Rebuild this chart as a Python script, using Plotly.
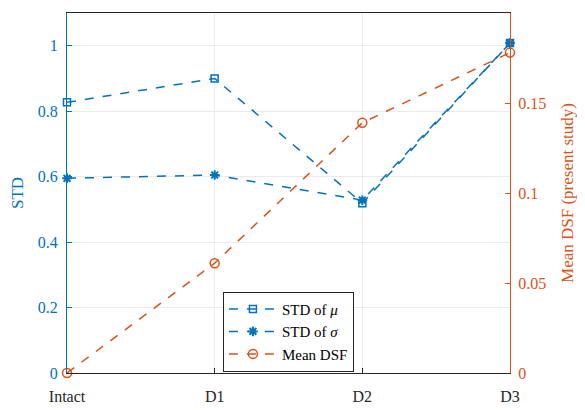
import plotly.graph_objects as go

categories = ["Intact", "D1", "D2", "D3"]
std_mu = [0.827, 0.90, 0.519, 1.008]
std_sigma = [0.595, 0.605, 0.528, 1.008]
mean_dsf = [0.0, 0.061, 0.139, 0.178]

left_ticks = [0, 0.2, 0.4, 0.6, 0.8, 1]
left_ticktext = ["0", "0.2", "0.4", "0.6", "0.8", "1"]
right_ticks = [0, 0.05, 0.1, 0.15, 0.2]
right_ticktext = ["0", "0.05", "0.1", "0.15", "0.2"]

BLUE = "#0072BD"
ORANGE = "#D95319"
FONT = "'Liberation Serif', 'Times New Roman', 'DejaVu Serif', serif"

fig = go.Figure()
fig.add_trace(go.Scatter(
    x=categories, y=std_mu, name="STD of <i>μ</i>", mode="lines+markers",
    line=dict(color=BLUE, width=1.5, dash="dash"),
    marker=dict(symbol="square-open", size=7, color=BLUE, line=dict(width=1.5)),
    yaxis="y", cliponaxis=False))
fig.add_trace(go.Scatter(
    x=categories, y=std_sigma, name="STD of <i>σ</i>", mode="lines+markers",
    line=dict(color=BLUE, width=1.5, dash="dash"),
    marker=dict(symbol="asterisk-open", size=8, color=BLUE, line=dict(width=2, color=BLUE)),
    yaxis="y", cliponaxis=False))
fig.add_trace(go.Scatter(
    x=categories, y=mean_dsf, name="Mean DSF", mode="lines+markers",
    line=dict(color=ORANGE, width=1.5, dash="dash"),
    marker=dict(symbol="circle-open", size=9, color=ORANGE, line=dict(width=1.5)),
    yaxis="y2", cliponaxis=False))

fig.update_layout(
    width=585, height=410,
    margin=dict(l=59, r=83, t=5, b=45, autoexpand=False),
    paper_bgcolor="white", plot_bgcolor="white",
    font=dict(family=FONT, size=16, color="#262626"),
    showlegend=True,
    legend=dict(x=0.352, y=0.226, xanchor="left", yanchor="top",
                bgcolor="white", bordercolor="#262626", borderwidth=1,
                font=dict(family=FONT, size=15, color="#000000"),
                tracegroupgap=0, itemwidth=48),
    xaxis=dict(
        type="category", categoryorder="array", categoryarray=categories,
        range=[0, 3], showgrid=True, gridcolor="#EBEBEB", gridwidth=1,
        showline=True, linecolor="#262626", linewidth=1, mirror=True,
        ticks="inside", ticklen=5, tickcolor="#262626",
        tickfont=dict(family=FONT, size=16, color="#262626"),
        ticklabelstandoff=9, automargin=False,
        zeroline=False),
    yaxis=dict(
        range=[0, 1.1], tickvals=left_ticks, ticktext=left_ticktext,
        showgrid=True, gridcolor="#EBEBEB", gridwidth=1,
        showline=True, linecolor=BLUE, linewidth=1,
        ticks="inside", ticklen=5, tickcolor=BLUE,
        tickfont=dict(family=FONT, size=16, color=BLUE),
        ticklabelstandoff=5, automargin=False,
        title=dict(text="STD", font=dict(family=FONT, size=17, color=BLUE), standoff=10),
        zeroline=False),
    yaxis2=dict(
        range=[0, 0.2], tickvals=right_ticks, ticktext=right_ticktext,
        overlaying="y", side="right", showgrid=False,
        showline=True, linecolor=ORANGE, linewidth=1,
        ticks="inside", ticklen=5, tickcolor=ORANGE,
        tickfont=dict(family=FONT, size=16, color=ORANGE),
        ticklabelstandoff=4, automargin=False,
        title=dict(text="Mean DSF (present study)", font=dict(family=FONT, size=17, color=ORANGE), standoff=15),
        zeroline=False),
)

fig.write_html("out.html")
